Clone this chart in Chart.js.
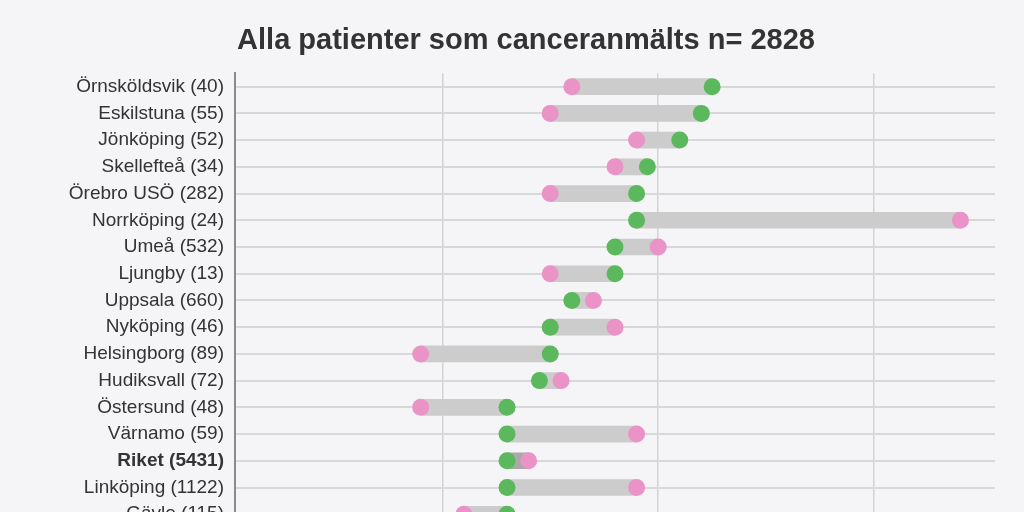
<!DOCTYPE html>
<html>
<head>
<meta charset="utf-8">
<title>Alla patienter som canceranmälts</title>
<script src="https://cdn.jsdelivr.net/npm/chart.js@4"></script>
<style>
    html, body {
        margin: 0;
        padding: 0;
        background: #f5f4f7;
        overflow: hidden;
    }
    #chartBox {
        width: 1024px;
        height: 512px;
        overflow: hidden;
    }
</style>
</head>
<body>
<div id="chartBox">
    <canvas id="dumbbellChart" width="1024" height="565"></canvas>
</div>
<script>
// Chart data
const chartTitle = "Alla patienter som canceranmälts n= 2828";
const clinics = [
    "Örnsköldsvik (40)", "Eskilstuna (55)", "Jönköping (52)", "Skellefteå (34)",
    "Örebro USÖ (282)", "Norrköping (24)", "Umeå (532)", "Ljungby (13)",
    "Uppsala (660)", "Nyköping (46)", "Helsingborg (89)", "Hudiksvall (72)",
    "Östersund (48)", "Värnamo (59)", "Riket (5431)", "Linköping (1122)",
    "Gävle (115)"
];
const pinkValues = [32, 30, 38, 36, 30, 68, 40, 30, 34, 36, 18, 31, 18, 38, 28, 38, 22];
const greenValues = [45, 44, 42, 39, 38, 38, 36, 36, 32, 30, 30, 29, 26, 26, 26, 26, 26];
const xTickValues = [20, 40, 60];

const totalLabel = "Riket (5431)";

document.addEventListener("DOMContentLoaded", () => {
    // grey bar between the two dots of each row
    const ranges = clinics.map((c, i) => [
        Math.min(pinkValues[i], greenValues[i]),
        Math.max(pinkValues[i], greenValues[i])
    ]);

    const ctx = document.getElementById("dumbbellChart").getContext("2d");
    const dumbbellChart = new Chart(ctx, {
        type: "bar",
        data: {
            labels: clinics,
            datasets: [
                {
                    label: "range",
                    data: ranges,
                    backgroundColor: (c) => clinics[c.dataIndex] === totalLabel ? "#a9a9a9" : "#cccccc",
                    barThickness: 16,
                    borderSkipped: false,
                    order: 3
                },
                {
                    type: "line",
                    label: "green",
                    data: greenValues,
                    showLine: false,
                    pointRadius: 8.5,
                    pointHoverRadius: 8.5,
                    pointBackgroundColor: "#5cb85c",
                    pointBorderWidth: 0,
                    order: 2
                },
                {
                    type: "line",
                    label: "pink",
                    data: pinkValues,
                    showLine: false,
                    pointRadius: 8.5,
                    pointHoverRadius: 8.5,
                    pointBackgroundColor: "#ea93c6",
                    pointBorderWidth: 0,
                    order: 1
                }
            ]
        },
        options: {
            responsive: false,
            animation: false,
            indexAxis: "y",
            layout: {
                padding: { left: 57, right: 29, top: 0, bottom: 9 }
            },
            plugins: {
                legend: { display: false },
                tooltip: { enabled: false },
                title: {
                    display: true,
                    text: chartTitle,
                    color: "#333333",
                    font: { family: "'Liberation Sans', Arial, sans-serif", size: 29, weight: "bold" },
                    padding: { top: 24, bottom: 14.5 }
                }
            },
            scales: {
                x: {
                    min: 0.8,
                    max: 71.2,
                    afterBuildTicks: (scale) => {
                        scale.ticks = xTickValues.map(v => ({ value: v }));
                    },
                    grid: {
                        color: "#d3d3d3",
                        lineWidth: 1.5,
                        drawTicks: false
                    },
                    border: { display: false },
                    ticks: {
                        color: "#333333",
                        padding: 4,
                        font: { family: "'Liberation Sans', Arial, sans-serif", size: 17 }
                    }
                },
                y: {
                    offset: true,
                    afterFit: (scale) => {
                        scale.width = 178;
                    },
                    grid: {
                        offset: false,
                        color: "#d8d8d8",
                        lineWidth: 2,
                        drawTicks: false
                    },
                    border: { color: "#8a8a8a", width: 2 },
                    ticks: {
                        color: "#333333",
                        padding: 11,
                        autoSkip: false,
                        font: (c) => ({
                            family: "'Liberation Sans', Arial, sans-serif",
                            size: 19,
                            weight: clinics[c.index] === totalLabel ? "bold" : "normal"
                        })
                    }
                }
            }
        }
    });
});
</script>
</body>
</html>
